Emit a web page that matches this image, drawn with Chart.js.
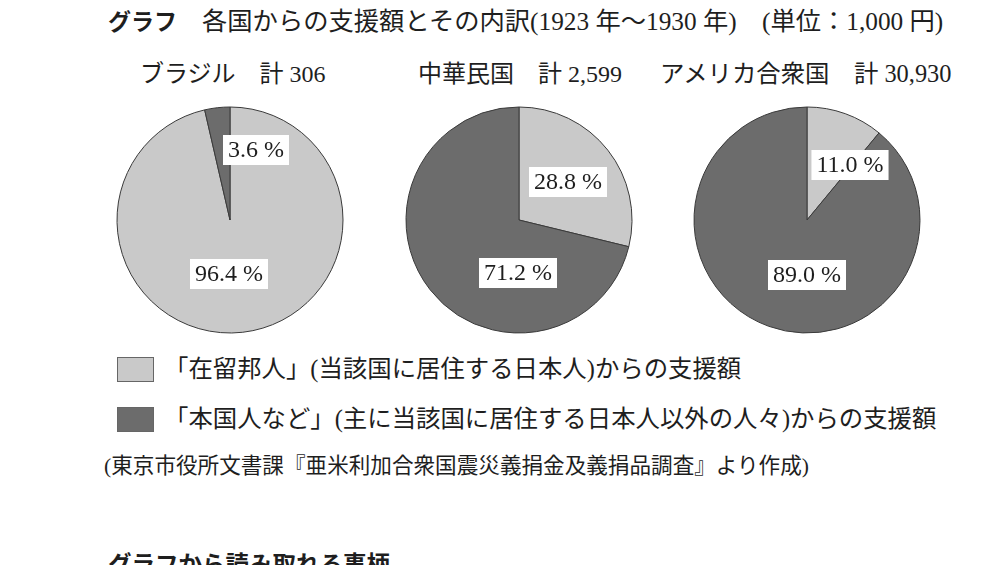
<!DOCTYPE html>
<html lang="ja">
<head>
<meta charset="utf-8">
<script src="https://cdn.jsdelivr.net/npm/chart.js@4"></script>
<style>
  body { margin: 0; background: #fff; width: 1000px; height: 565px; overflow: hidden; position: relative; color: #1e1e1e;
         font-family: 'Liberation Serif', 'Noto Sans CJK JP', serif; }
  .t { position: absolute; white-space: nowrap; line-height: 1; }
  .pie { position: absolute; width: 240px; height: 240px; }
  .sw { position: absolute; left: 117px; width: 37px; height: 25px; border: 1px solid #666; box-sizing: border-box; }
</style>
</head>
<body>
<div class="t" id="title" style="left:108px; top:9px; font-size:25.3px;"></div>
<div class="t pieTitle" style="left:140px; top:62px; font-size:24px;"></div>
<div class="t pieTitle" style="left:418px; top:62px; font-size:24px;"></div>
<div class="t pieTitle" style="left:660px; top:62px; font-size:24.4px;"></div>

<canvas class="pie" id="pie0" width="240" height="240" style="left:110px; top:100px;"></canvas>
<canvas class="pie" id="pie1" width="240" height="240" style="left:399px; top:100px;"></canvas>
<canvas class="pie" id="pie2" width="240" height="240" style="left:687px; top:100px;"></canvas>

<div class="sw" style="top:357px; background:#c9c9c9;"></div>
<div class="t legendText" style="left:164px; top:357px; font-size:24.4px;"></div>
<div class="sw" style="top:407px; background:#6c6c6c;"></div>
<div class="t legendText" style="left:164px; top:407px; font-size:24.4px;"></div>

<div class="t" id="source" style="left:104px; top:456px; font-size:21.6px;"></div>
<div class="t" id="next" style="left:108px; top:552px; font-size:23.5px; font-weight:bold; font-family:'Noto Sans CJK JP';">グラフから読み取れる事柄</div>

<script>
// 国名と合計(単位：1,000円)
const countries = ['ブラジル', '中華民国', 'アメリカ合衆国'];
const totals = [306, 2599, 30930];

// 内訳(%)
const residentShare = [96.4, 28.8, 11.0];   // 在留邦人
const nativeShare = [3.6, 71.2, 89.0];      // 本国人など

const seriesLabels = [
  '「在留邦人」(当該国に居住する日本人)からの支援額',
  '「本国人など」(主に当該国に居住する日本人以外の人々)からの支援額'
];
const seriesColors = ['#c9c9c9', '#6c6c6c'];

// ラベル位置 (円の中心からのずれ, px)
const labelOffsets = [
  [[-1, 54], [26, -70]],
  [[49, -38], [-1, 53]],
  [[43, -55], [0, 55]]
];

document.getElementById('title').innerHTML =
  '<span style="font-family:\'Noto Sans CJK JP\'; font-weight:bold; font-size:23px;">グラフ</span>' +
  '<span style="margin-left:25px;">各国からの支援額とその内訳(1923 年～1930 年)　(単位：1,000 円)</span>';
document.querySelectorAll('.pieTitle').forEach((el, i) => {
  el.textContent = countries[i] + '　計 ' + totals[i].toLocaleString('en-US');
});
document.querySelectorAll('.legendText').forEach((el, i) => {
  el.textContent = seriesLabels[i];
});
document.getElementById('source').textContent =
  '(東京市役所文書課『亜米利加合衆国震災義捐金及義捐品調査』より作成)';

const boxLabels = {
  id: 'boxLabels',
  afterDatasetsDraw(chart, args, opts) {
    const ctx = chart.ctx;
    const meta = chart.getDatasetMeta(0);
    const values = chart.data.datasets[0].data;
    ctx.save();
    ctx.font = '24px "Liberation Serif", serif';
    ctx.textAlign = 'center';
    ctx.textBaseline = 'middle';
    meta.data.forEach((arc, i) => {
      const x = arc.x + opts.offsets[i][0];
      const y = arc.y + opts.offsets[i][1];
      const text = values[i].toFixed(1) + ' %';
      const w = ctx.measureText(text).width + 10;
      const h = 30;
      ctx.fillStyle = '#fff';
      ctx.fillRect(x - w / 2, y - h / 2, w, h);
      ctx.fillStyle = '#1e1e1e';
      ctx.fillText(text, x, y + 1);
    });
    ctx.restore();
  }
};

countries.forEach((c, i) => {
  new Chart(document.getElementById('pie' + i), {
    type: 'pie',
    data: {
      labels: seriesLabels,
      datasets: [{
        data: [residentShare[i], nativeShare[i]],
        backgroundColor: seriesColors,
        borderColor: '#3a3a3a',
        borderWidth: 1
      }]
    },
    options: {
      responsive: false,
      animation: false,
      radius: 113,
      plugins: {
        legend: { display: false },
        tooltip: { enabled: false },
        boxLabels: { offsets: labelOffsets[i] }
      }
    },
    plugins: [boxLabels]
  });
});
</script>
</body>
</html>
